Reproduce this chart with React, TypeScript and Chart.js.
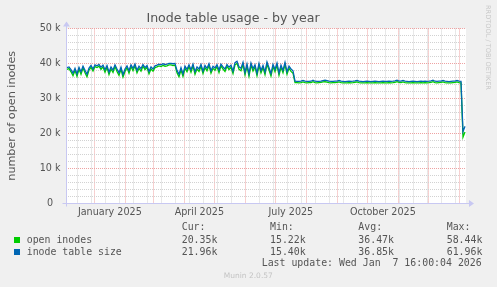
import React, { useEffect, useRef } from 'react';
import { Chart, registerables } from 'chart.js';

Chart.register(...registerables);

// ---------- text ----------
const TITLE = 'Inode table usage - by year';
const Y_TITLE = 'number of open inodes';
const WATERMARK = 'RRDTOOL / TOBI OETIKER';
const LAST_UPDATE = 'Last update: Wed Jan  7 16:00:04 2026';
const FOOTER = 'Munin 2.0.57';

// ---------- time axis ----------
const START_UTC = Date.UTC(2024, 11, 3, 16, 0, 4); // 400 days before last update
const SPAN_DAYS = 400;
const SAMPLE_STEP_DAYS = 2; // one sample every 2 days, first at day 1
const monthLabels = ['January 2025', 'April 2025', 'July 2025', 'October 2025'];
const monthLabelYM: [number, number][] = [[2025, 0], [2025, 3], [2025, 6], [2025, 9]];
const monthGridYM: [number, number][] = [
  [2025, 0], [2025, 1], [2025, 2], [2025, 3], [2025, 4], [2025, 5], [2025, 6],
  [2025, 7], [2025, 8], [2025, 9], [2025, 10], [2025, 11], [2026, 0],
];
const MINOR_GRID_FIRST_UTC = Date.UTC(2024, 11, 15);
const MINOR_GRID_STEP_DAYS = 14;

// ---------- y axis (thousands) ----------
const Y_MIN = 0;
const Y_MAX = 50;
const Y_STEP = 2;
const Y_MAJOR = 10;

// ---------- series (values in thousands) ----------
const seriesNames = ['open inodes', 'inode table size'];
const seriesColors = ['#00CC00', '#0066B3'];

const openInodes = [
  38.3, 38.5, 37.6, 36.5, 38.0, 36.3, 38.4, 36.9, 38.7, 37.3, 36.2, 38.1, 38.9, 37.8,
  39.1, 38.8, 39.2, 38.3, 39.0,
  37.5, 38.9, 36.8, 38.4, 37.4, 39.1, 37.7, 36.6, 38.3, 36.1,
  37.7, 38.8, 37.2, 39.1, 37.9, 39.3, 37.3, 38.6, 37.8, 39.2, 38.2, 38.9,
  37.0, 38.4, 37.8, 38.8, 39.0,
  39.3, 39.1, 39.4, 39.2, 39.3, 39.6, 39.6, 39.4, 39.5,
  37.3, 36.2, 38.1, 36.3, 38.6, 37.6,
  39.1, 37.5, 39.3, 36.9, 38.4, 37.7, 39.2, 37.1, 38.8, 37.9, 39.4, 37.2, 38.6, 38.0, 39.1, 37.4, 39.3, 38.4, 37.7, 39.2, 38.2,
  38.9, 37.1, 39.6, 40.0, 38.3, 37.9,
  39.7, 36.7, 39.2, 36.3, 39.5, 37.8, 39.0, 36.5, 39.4, 37.3, 38.8, 36.8, 39.8, 38.1, 36.4, 39.1, 37.6, 39.5, 36.6, 38.9, 37.3, 39.7, 36.9, 38.6, 37.7, 37.2,
  34.5, 34.5, 34.45, 34.5, 34.7, 34.5, 34.45, 34.5, 34.5, 34.75, 34.5, 34.45,
  34.5, 34.55, 34.7, 34.75, 34.65, 34.5, 34.45, 34.5, 34.5, 34.55, 34.7, 34.5,
  34.45, 34.4, 34.45, 34.5, 34.45, 34.5, 34.6, 34.7, 34.5, 34.45, 34.4, 34.45,
  34.5, 34.45, 34.4, 34.45, 34.5, 34.45, 34.4, 34.45, 34.5, 34.45, 34.45, 34.5,
  34.45, 34.5, 34.6, 34.75, 34.55, 34.5, 34.7, 34.5, 34.45, 34.4, 34.45, 34.5,
  34.45, 34.4, 34.45, 34.5, 34.45, 34.5, 34.45, 34.5, 34.6, 34.75, 34.5, 34.45,
  34.5, 34.55, 34.7, 34.5, 34.45, 34.4, 34.45, 34.5, 34.55, 34.7, 34.5, 34.45,
  18.9, 20.35,
];

const inodeTableSize = [
  38.8, 39.0, 38.2, 37.2, 38.6, 37.0, 38.9, 37.6, 39.2, 38.0, 36.9, 38.7, 39.4, 38.4,
  39.6, 39.3, 39.7, 38.9, 39.5,
  38.2, 39.4, 37.5, 39.0, 38.1, 39.6, 38.4, 37.3, 38.9, 36.8,
  38.4, 39.3, 37.9, 39.6, 38.6, 39.8, 38.0, 39.2, 38.5, 39.7, 38.8, 39.4,
  37.7, 39.0, 38.4, 39.3, 39.5,
  39.8, 39.6, 39.9, 39.7, 39.8, 40.0, 40.0, 39.9, 40.0,
  38.0, 36.9, 38.8, 37.0, 39.2, 38.3,
  39.6, 38.2, 39.8, 37.6, 39.0, 38.4, 39.7, 37.8, 39.4, 38.6, 39.9, 37.9, 39.2, 38.7, 39.6, 38.1, 39.8, 39.0, 38.4, 39.7, 38.9,
  39.5, 37.8, 40.2, 40.6, 39.0, 38.6,
  40.3, 37.4, 39.8, 37.0, 40.1, 38.5, 39.6, 37.2, 40.0, 38.0, 39.4, 37.5, 40.4, 38.8, 37.1, 39.7, 38.3, 40.1, 37.3, 39.5, 38.0, 40.3, 37.6, 39.2, 38.4, 37.9,
  34.9, 34.85, 34.85, 34.9, 35.15, 34.9, 34.85, 34.85, 34.9, 35.2, 34.9, 34.85,
  34.85, 34.9, 35.1, 35.2, 35.1, 34.9, 34.85, 34.85, 34.9, 34.95, 35.15, 34.9,
  34.85, 34.8, 34.85, 34.9, 34.85, 34.9, 35.0, 35.15, 34.9, 34.85, 34.8, 34.85,
  34.9, 34.85, 34.8, 34.85, 34.9, 34.85, 34.8, 34.85, 34.9, 34.85, 34.85, 34.9,
  34.85, 34.9, 35.0, 35.2, 34.95, 34.9, 35.15, 34.9, 34.85, 34.8, 34.85, 34.9,
  34.85, 34.8, 34.85, 34.9, 34.85, 34.9, 34.85, 34.9, 35.0, 35.2, 34.9, 34.85,
  34.9, 34.95, 35.15, 34.9, 34.85, 34.8, 34.85, 34.9, 34.95, 35.15, 34.9, 34.85,
  20.4, 21.96,
];

// ---------- legend statistics ----------
const statHeaders = ['Cur:', 'Min:', 'Avg:', 'Max:'];
const curValues = ['20.35k', '21.96k'];
const minValues = ['15.22k', '15.40k'];
const avgValues = ['36.47k', '36.85k'];
const maxValues = ['58.44k', '61.96k'];

// ---------- derived tick tables ----------
const DAY_MS = 86400000;
const dayOf = (ms: number) => (ms - START_UTC) / DAY_MS;
const key = (v: number) => v.toFixed(3);

const tickKind = new Map<string, { kind: 'minor' | 'major' | 'label'; label: string }>();
for (let t = MINOR_GRID_FIRST_UTC; dayOf(t) <= SPAN_DAYS; t += MINOR_GRID_STEP_DAYS * DAY_MS) {
  tickKind.set(key(dayOf(t)), { kind: 'minor', label: '' });
}
monthGridYM.forEach(([y, m]) => tickKind.set(key(dayOf(Date.UTC(y, m, 1))), { kind: 'major', label: '' }));
monthLabelYM.forEach(([y, m], i) => {
  const mid = (dayOf(Date.UTC(y, m, 1)) + dayOf(Date.UTC(y, m + 1, 1))) / 2;
  tickKind.set(key(mid), { kind: 'label', label: monthLabels[i] });
});
const xTickValues = Array.from(tickKind.keys())
  .map(Number)
  .filter((v) => v >= 0 && v <= SPAN_DAYS)
  .sort((a, b) => a - b);

const toPoints = (vals: number[]) => vals.map((y, i) => ({ x: 1 + i * SAMPLE_STEP_DAYS, y }));

const MGRID = 'rgb(238,162,162)';
const GRID = 'rgb(210,210,210)';
const AXIS = 'rgb(200,200,242)';
const TEXT = '#555555';

const decorPlugin = {
  id: 'rrdDecor',
  beforeDraw(chart: any) {
    const { ctx, chartArea: a, width, height } = chart;
    ctx.save();
    ctx.fillStyle = '#F0F0F0';
    ctx.fillRect(0, 0, width, height);
    ctx.fillStyle = '#FFFFFF';
    ctx.fillRect(a.left, a.top, a.right - a.left, a.bottom - a.top);
    ctx.restore();
  },
  afterDraw(chart: any) {
    const { ctx, chartArea: a } = chart;
    ctx.save();
    // axes with arrows
    ctx.strokeStyle = AXIS;
    ctx.fillStyle = AXIS;
    ctx.lineWidth = 1;
    const by = Math.round(a.bottom) + 0.5;
    const lx = Math.round(a.left) + 0.5;
    ctx.beginPath();
    ctx.moveTo(lx - 4, by);
    ctx.lineTo(a.right + 4, by);
    ctx.moveTo(lx, by + 3);
    ctx.lineTo(lx, a.top - 3);
    ctx.stroke();
    ctx.beginPath();
    ctx.moveTo(a.right + 3, by - 3.5);
    ctx.lineTo(a.right + 8, by);
    ctx.lineTo(a.right + 3, by + 3.5);
    ctx.closePath();
    ctx.fill();
    ctx.beginPath();
    ctx.moveTo(lx - 3.5, a.top - 2);
    ctx.lineTo(lx, a.top - 7);
    ctx.lineTo(lx + 3.5, a.top - 2);
    ctx.closePath();
    ctx.fill();
    // watermark
    ctx.translate(488, 5);
    ctx.rotate(Math.PI / 2);
    ctx.fillStyle = '#C8C8C8';
    ctx.font = '6.6px "DejaVu Sans"';
    ctx.textAlign = 'left';
    ctx.textBaseline = 'middle';
    ctx.fillText(WATERMARK, 0, 0);
    ctx.restore();
  },
};

function InodeChart() {
  const ref = useRef<HTMLCanvasElement | null>(null);
  useEffect(() => {
    if (!ref.current) return;
    const chart = new Chart(ref.current, {
      type: 'line',
      data: {
        datasets: [
          {
            label: seriesNames[0],
            data: toPoints(openInodes),
            borderColor: seriesColors[0],
            backgroundColor: seriesColors[0],
            borderWidth: 1.3,
            pointRadius: 0,
            fill: false,
            tension: 0,
            order: 2,
          },
          {
            label: seriesNames[1],
            data: toPoints(inodeTableSize),
            borderColor: seriesColors[1],
            backgroundColor: seriesColors[1],
            borderWidth: 1.3,
            pointRadius: 0,
            fill: false,
            tension: 0,
            order: 1,
          },
        ],
      },
      options: {
        animation: false,
        responsive: false,
        events: [],
        layout: { padding: { left: 0, right: 31, top: 0, bottom: 0 } },
        plugins: {
          legend: { display: false },
          tooltip: { enabled: false },
          title: {
            display: true,
            text: TITLE,
            color: TEXT,
            font: { family: '"DejaVu Sans"', size: 12.6, weight: 'normal', lineHeight: 1.2 },
            padding: { top: 11.5, bottom: 1.9 },
          },
        },
        scales: {
          x: {
            type: 'linear',
            min: 0,
            max: SPAN_DAYS,
            afterBuildTicks: (scale: any) => {
              scale.ticks = xTickValues.map((value) => ({ value }));
            },
            afterFit: (scale: any) => {
              scale.height = 84;
            },
            ticks: {
              autoSkip: false,
              maxRotation: 0,
              minRotation: 0,
              padding: 4,
              color: TEXT,
              font: { family: '"DejaVu Sans"', size: 9.6 },
              callback: (v: any) => tickKind.get(key(Number(v)))?.label ?? '',
            },
            grid: {
              drawTicks: false,
              lineWidth: 1,
              color: (ctx: any) => {
                const k = ctx.tick ? tickKind.get(key(ctx.tick.value))?.kind : undefined;
                if (k === 'major') return MGRID;
                if (k === 'minor') return GRID;
                return 'rgba(0,0,0,0)';
              },
            },
            border: { display: false, dash: [1, 1] },
          },
          y: {
            type: 'linear',
            min: Y_MIN,
            max: Y_MAX,
            afterFit: (scale: any) => {
              scale.width = 66;
            },
            ticks: {
              stepSize: Y_STEP,
              autoSkip: false,
              padding: 5.5,
              crossAlign: 'center',
              color: TEXT,
              font: { family: '"DejaVu Sans"', size: 9.6 },
              callback: (v: any) => {
                const n = Number(v);
                if (n % Y_MAJOR !== 0) return '';
                return n === 0 ? '0' : `${n} k`;
              },
            },
            grid: {
              drawTicks: false,
              lineWidth: 1,
              color: (ctx: any) => {
                const v = ctx.tick ? ctx.tick.value : 1;
                return v % Y_MAJOR === 0 ? MGRID : GRID;
              },
            },
            border: { display: false, dash: [1, 1] },
            title: {
              display: true,
              text: Y_TITLE,
              color: TEXT,
              font: { family: '"DejaVu Sans"', size: 11.2 },
              padding: { top: 5, bottom: 0 },
            },
          },
        },
      } as any,
      plugins: [decorPlugin],
    });
    return () => chart.destroy();
  }, []);
  return <canvas ref={ref} width={497} height={287} style={{ position: 'absolute', left: 0, top: 0, width: 497, height: 287 }} />;
}

const mono: React.CSSProperties = {
  position: 'absolute',
  fontFamily: '"DejaVu Sans Mono", monospace',
  fontSize: '9.9px',
  lineHeight: '12px',
  color: TEXT,
  whiteSpace: 'pre',
  margin: 0,
};

const statColumnsX = [181.7, 270, 358.3, 446.7];
const rowCenters = [240, 251.7];

export default function App() {
  const columns = [curValues, minValues, avgValues, maxValues];
  return (
    <div style={{ position: 'fixed', left: 0, top: 0, width: 497, height: 287, background: '#F0F0F0', overflow: 'hidden' }}>
      <InodeChart />
      {statHeaders.map((h, i) => (
        <div key={h} style={{ ...mono, left: statColumnsX[i], top: 227.3 - 6 }}>{h}</div>
      ))}
      {seriesNames.map((name, r) => (
        <React.Fragment key={name}>
          <div style={{ position: 'absolute', left: 14, top: rowCenters[r] - 3, width: 6, height: 6, background: seriesColors[r] }} />
          <div style={{ ...mono, left: 26.7, top: rowCenters[r] - 6 }}>{name}</div>
          {columns.map((col, c) => (
            <div key={c} style={{ ...mono, left: statColumnsX[c], top: rowCenters[r] - 6 }}>{col[r]}</div>
          ))}
        </React.Fragment>
      ))}
      <div style={{ ...mono, left: 261.7, top: 263.3 - 6 }}>{LAST_UPDATE}</div>
      <div
        style={{
          position: 'absolute',
          left: 148.3,
          width: 200,
          top: 271,
          textAlign: 'center',
          fontFamily: '"DejaVu Sans", sans-serif',
          fontSize: '7.5px',
          lineHeight: '10px',
          color: '#C4C4C4',
          whiteSpace: 'pre',
        }}
      >
        {FOOTER}
      </div>
    </div>
  );
}
